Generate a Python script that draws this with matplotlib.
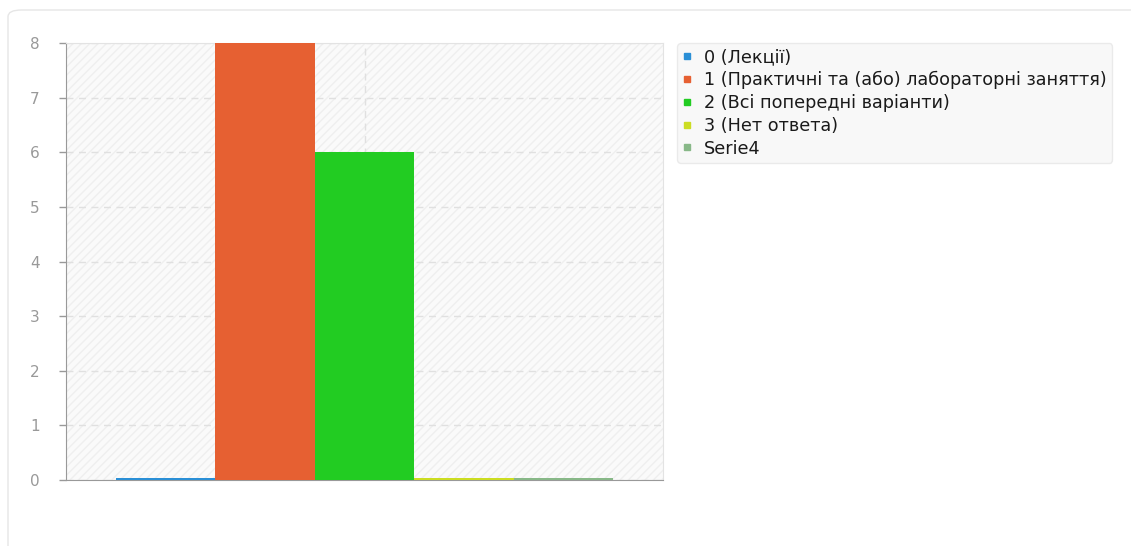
import numpy as np
from matplotlib import pyplot as plt
from matplotlib.lines import Line2D
from matplotlib.patches import FancyBboxPatch

labels = ["0 (Лекції)", "1 (Практичні та (або) лабораторні заняття)",
          "2 (Всі попередні варіанти)", "3 (Нет ответа)", "Serie4"]
values = [0, 8, 6, 0, 0]
colors = ["#2a8fd6", "#e66032", "#22cc22", "#ccdd22", "#88b888"]

plt.rcParams['font.family'] = ['DejaVu Sans']

fig = plt.figure(figsize=(11.31, 5.46), dpi=100)

# рамка-карточка
card = FancyBboxPatch((8 / 1131, -0.1), 1.2, (546 - 10) / 546 + 0.1,
                      boxstyle="round,pad=0,rounding_size=0.012",
                      transform=fig.transFigure, facecolor="white",
                      edgecolor="#e6e6e6", linewidth=1, zorder=-5)
fig.patches.append(card)

ax = fig.add_axes([66 / 1131, 66 / 546, 597 / 1131, 437 / 546])
ax.set_zorder(1)
ax.set_facecolor("#fafafa")
ax.patch.set_hatch("////")
ax.patch.set_edgecolor("#efefef")
ax.patch.set_linewidth(0)

w = 1 / 6
n = len(values)
x = (np.arange(n) - (n - 1) / 2) * w
for xi, v, c in zip(x, values, colors):
    if v == 0:
        # нулевые значения — тонкая цветная линия по оси
        ax.bar(xi, 0.04, width=w, color=c, linewidth=0, zorder=4, clip_on=False)
    else:
        ax.bar(xi, v, width=w, color=c, linewidth=0, zorder=3)

ax.set_xlim(-0.5, 0.5)
ax.set_ylim(0, 8)
ax.set_yticks(range(0, 9))
ax.set_xticks([0])
ax.tick_params(axis="x", length=0, labelbottom=False)
ax.tick_params(axis="y", colors="#999999", labelcolor="#999999", labelsize=11,
               length=5, width=1, pad=14)
ax.grid(True, color="#e0e0e0", linestyle=(0, (5, 4)), linewidth=1, zorder=1)
for s in ["top", "right"]:
    ax.spines[s].set_color("#e3e3e3")
for s in ["left", "bottom"]:
    ax.spines[s].set_color("#999999")

handles = [Line2D([], [], marker="s", linestyle="none", markersize=4.5,
                  markerfacecolor=c, markeredgecolor=c) for c in colors]
leg = fig.legend(handles, labels, loc="upper left",
                 bbox_to_anchor=(677 / 1131, 1 - 43 / 546),
                 fontsize=12.7, frameon=True, fancybox=True, shadow=False,
                 handlelength=0.5, handletextpad=0.75, labelspacing=0.27,
                 borderpad=0.3, borderaxespad=0)
leg.set_zorder(5)
leg.get_frame().set_facecolor("#f7f7f7")
leg.get_frame().set_edgecolor("#e6e6e6")
for t in leg.get_texts():
    t.set_color("#1a1a1a")

fig.savefig("out.png", dpi=100)
